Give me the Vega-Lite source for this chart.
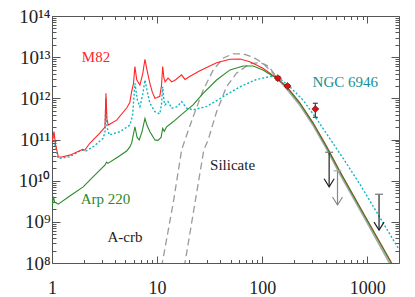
{
  "$schema": "https://vega.github.io/schema/vega-lite/v6.json",
  "width": 347,
  "height": 247,
  "autosize": {"type": "none"},
  "padding": {"left": 52, "top": 16, "right": 16, "bottom": 34},
  "background": "white",
  "config": {
    "view": {"stroke": null},
    "axis": {"grid": false, "domainColor": "#555", "tickColor": "#555", "domainWidth": 1, "tickWidth": 1, "title": null, "labelFlush": false, "labelOverlap": false, "labelBound": false}
  },
  "datasets": {
    "curves": [
      {"s": "dashA", "x": 11.0, "y": 8.0e7},
      {"s": "dashA", "x": 11.2, "y": 1.0e8},
      {"s": "dashA", "x": 14.3, "y": 3.09e9},
      {"s": "dashA", "x": 17.1, "y": 5.56e10},
      {"s": "dashA", "x": 18.4, "y": 9.77e10},
      {"s": "dashA", "x": 22, "y": 3.55e11},
      {"s": "dashA", "x": 27.4, "y": 1.58e12},
      {"s": "dashA", "x": 34.2, "y": 4.9e12},
      {"s": "dashA", "x": 42.6, "y": 9.55e12},
      {"s": "dashA", "x": 52.8, "y": 1.2e13},
      {"s": "dashA", "x": 65.9, "y": 1.2e13},
      {"s": "dashA", "x": 82, "y": 1.0e13},
      {"s": "dashA", "x": 101.5, "y": 7.08e12},
      {"s": "dashA", "x": 126, "y": 4.17e12},
      {"s": "dashA", "x": 141, "y": 2.95e12},
      {"s": "dashB", "x": 18.0, "y": 8.0e7},
      {"s": "dashB", "x": 18.4, "y": 1.0e8},
      {"s": "dashB", "x": 27.8, "y": 5.56e10},
      {"s": "dashB", "x": 30.6, "y": 9.77e10},
      {"s": "dashB", "x": 36.8, "y": 4.73e11},
      {"s": "dashB", "x": 45.7, "y": 1.91e12},
      {"s": "dashB", "x": 56.8, "y": 4.07e12},
      {"s": "dashB", "x": 76.2, "y": 6.92e12},
      {"s": "dashB", "x": 95, "y": 7.41e12},
      {"s": "dashB", "x": 115, "y": 6.03e12},
      {"s": "dashB", "x": 141, "y": 2.95e12},
      {"s": "tail", "x": 141, "y": 2.95e12},
      {"s": "tail", "x": 170, "y": 1.72e12},
      {"s": "tail", "x": 228, "y": 6.8e11},
      {"s": "tail", "x": 304.7, "y": 2.2e11},
      {"s": "tail", "x": 408.6, "y": 5.9e10},
      {"s": "tail", "x": 547.6, "y": 1.45e10},
      {"s": "tail", "x": 944, "y": 1.22e9},
      {"s": "tail", "x": 1700, "y": 8.0e7},
      {"s": "NGC 6946", "x": 1.0, "y": 9.77e10},
      {"s": "NGC 6946", "x": 1.03, "y": 1.2e11},
      {"s": "NGC 6946", "x": 1.07, "y": 7.08e10},
      {"s": "NGC 6946", "x": 1.148, "y": 3.47e10},
      {"s": "NGC 6946", "x": 1.48, "y": 3.8e10},
      {"s": "NGC 6946", "x": 1.92, "y": 5.56e10},
      {"s": "NGC 6946", "x": 2.1, "y": 5.25e10},
      {"s": "NGC 6946", "x": 2.47, "y": 6.68e10},
      {"s": "NGC 6946", "x": 3.07, "y": 1.07e11},
      {"s": "NGC 6946", "x": 3.2, "y": 1.58e11},
      {"s": "NGC 6946", "x": 3.26, "y": 1.0e12},
      {"s": "NGC 6946", "x": 3.33, "y": 2.0e11},
      {"s": "NGC 6946", "x": 3.51, "y": 1.29e11},
      {"s": "NGC 6946", "x": 4.43, "y": 1.55e11},
      {"s": "NGC 6946", "x": 5.52, "y": 2.24e11},
      {"s": "NGC 6946", "x": 5.85, "y": 3.98e11},
      {"s": "NGC 6946", "x": 6.15, "y": 2.32e12},
      {"s": "NGC 6946", "x": 6.5, "y": 8.91e11},
      {"s": "NGC 6946", "x": 6.86, "y": 6.31e11},
      {"s": "NGC 6946", "x": 7.3, "y": 1.26e12},
      {"s": "NGC 6946", "x": 7.66, "y": 2.79e12},
      {"s": "NGC 6946", "x": 8.0, "y": 1.58e12},
      {"s": "NGC 6946", "x": 8.54, "y": 7.59e11},
      {"s": "NGC 6946", "x": 9.53, "y": 4.73e11},
      {"s": "NGC 6946", "x": 10.6, "y": 4.17e11},
      {"s": "NGC 6946", "x": 11.0, "y": 7.08e11},
      {"s": "NGC 6946", "x": 11.3, "y": 1.91e12},
      {"s": "NGC 6946", "x": 11.6, "y": 8.91e11},
      {"s": "NGC 6946", "x": 11.9, "y": 6.92e11},
      {"s": "NGC 6946", "x": 12.7, "y": 8.32e11},
      {"s": "NGC 6946", "x": 13.8, "y": 5.75e11},
      {"s": "NGC 6946", "x": 15.5, "y": 6.31e11},
      {"s": "NGC 6946", "x": 17.1, "y": 8.32e11},
      {"s": "NGC 6946", "x": 19.1, "y": 5.75e11},
      {"s": "NGC 6946", "x": 22, "y": 5.25e11},
      {"s": "NGC 6946", "x": 29.5, "y": 6.31e11},
      {"s": "NGC 6946", "x": 42.6, "y": 1.1e12},
      {"s": "NGC 6946", "x": 61.5, "y": 1.91e12},
      {"s": "NGC 6946", "x": 88.3, "y": 2.88e12},
      {"s": "NGC 6946", "x": 126, "y": 3.47e12},
      {"s": "NGC 6946", "x": 141, "y": 3.31e12},
      {"s": "NGC 6946", "x": 183, "y": 1.91e12},
      {"s": "NGC 6946", "x": 244, "y": 9.12e11},
      {"s": "NGC 6946", "x": 327, "y": 3.24e11},
      {"s": "NGC 6946", "x": 438, "y": 1.07e11},
      {"s": "NGC 6946", "x": 589, "y": 3.47e10},
      {"s": "NGC 6946", "x": 846, "y": 8.32e9},
      {"s": "NGC 6946", "x": 2000, "y": 2.14e8},
      {"s": "M82", "x": 1.0, "y": 8.91e10},
      {"s": "M82", "x": 1.045, "y": 1.55e11},
      {"s": "M82", "x": 1.08, "y": 7.59e10},
      {"s": "M82", "x": 1.148, "y": 3.8e10},
      {"s": "M82", "x": 1.236, "y": 3.76e10},
      {"s": "M82", "x": 1.48, "y": 4.17e10},
      {"s": "M82", "x": 1.85, "y": 5.37e10},
      {"s": "M82", "x": 1.95, "y": 5.75e10},
      {"s": "M82", "x": 2.05, "y": 5.5e10},
      {"s": "M82", "x": 2.3, "y": 8.22e10},
      {"s": "M82", "x": 2.86, "y": 1.45e11},
      {"s": "M82", "x": 3.19, "y": 2.0e11},
      {"s": "M82", "x": 3.26, "y": 1.32e12},
      {"s": "M82", "x": 3.33, "y": 3.16e11},
      {"s": "M82", "x": 3.43, "y": 2.24e11},
      {"s": "M82", "x": 4.12, "y": 2.95e11},
      {"s": "M82", "x": 5.13, "y": 5.82e11},
      {"s": "M82", "x": 5.5, "y": 7.94e11},
      {"s": "M82", "x": 5.72, "y": 1.45e12},
      {"s": "M82", "x": 5.95, "y": 2.24e12},
      {"s": "M82", "x": 6.15, "y": 5.89e12},
      {"s": "M82", "x": 6.4, "y": 2.82e12},
      {"s": "M82", "x": 6.86, "y": 2.09e12},
      {"s": "M82", "x": 7.3, "y": 3.98e12},
      {"s": "M82", "x": 7.66, "y": 8.91e12},
      {"s": "M82", "x": 8.0, "y": 5.01e12},
      {"s": "M82", "x": 8.54, "y": 2.32e12},
      {"s": "M82", "x": 9.0, "y": 1.41e12},
      {"s": "M82", "x": 9.53, "y": 1.0e12},
      {"s": "M82", "x": 10.0, "y": 1.05e12},
      {"s": "M82", "x": 10.6, "y": 1.12e12},
      {"s": "M82", "x": 11.0, "y": 2.0e12},
      {"s": "M82", "x": 11.3, "y": 5.89e12},
      {"s": "M82", "x": 11.6, "y": 3.16e12},
      {"s": "M82", "x": 11.9, "y": 2.51e12},
      {"s": "M82", "x": 12.7, "y": 3.09e12},
      {"s": "M82", "x": 13.8, "y": 2.51e12},
      {"s": "M82", "x": 15.0, "y": 2.82e12},
      {"s": "M82", "x": 17.1, "y": 3.72e12},
      {"s": "M82", "x": 18.4, "y": 2.88e12},
      {"s": "M82", "x": 20, "y": 3.31e12},
      {"s": "M82", "x": 25.5, "y": 4.68e12},
      {"s": "M82", "x": 36.8, "y": 7.33e12},
      {"s": "M82", "x": 49.3, "y": 8.91e12},
      {"s": "M82", "x": 61.5, "y": 9.02e12},
      {"s": "M82", "x": 76.2, "y": 7.76e12},
      {"s": "M82", "x": 101.5, "y": 5.37e12},
      {"s": "M82", "x": 136.5, "y": 3.12e12},
      {"s": "M82", "x": 170, "y": 1.97e12},
      {"s": "M82", "x": 228, "y": 7.8e11},
      {"s": "M82", "x": 304.7, "y": 2.54e11},
      {"s": "M82", "x": 408.6, "y": 6.9e10},
      {"s": "M82", "x": 547.6, "y": 1.7e10},
      {"s": "M82", "x": 944, "y": 1.43e9},
      {"s": "M82", "x": 1720, "y": 9.6e7},
      {"s": "Arp 220", "x": 1.0, "y": 2.19e9},
      {"s": "Arp 220", "x": 1.03, "y": 4.07e9},
      {"s": "Arp 220", "x": 1.06, "y": 3.02e9},
      {"s": "Arp 220", "x": 1.148, "y": 2.69e9},
      {"s": "Arp 220", "x": 1.5, "y": 4.37e9},
      {"s": "Arp 220", "x": 1.98, "y": 7.08e9},
      {"s": "Arp 220", "x": 2.47, "y": 1.26e10},
      {"s": "Arp 220", "x": 3.2, "y": 2.4e10},
      {"s": "Arp 220", "x": 3.3, "y": 2.82e10},
      {"s": "Arp 220", "x": 3.4, "y": 2.63e10},
      {"s": "Arp 220", "x": 4.2, "y": 3.72e10},
      {"s": "Arp 220", "x": 5.13, "y": 5.25e10},
      {"s": "Arp 220", "x": 5.5, "y": 6.61e10},
      {"s": "Arp 220", "x": 5.72, "y": 8.13e10},
      {"s": "Arp 220", "x": 6.15, "y": 2.04e11},
      {"s": "Arp 220", "x": 6.45, "y": 1.12e11},
      {"s": "Arp 220", "x": 6.76, "y": 9.77e10},
      {"s": "Arp 220", "x": 7.2, "y": 1.58e11},
      {"s": "Arp 220", "x": 7.66, "y": 3.24e11},
      {"s": "Arp 220", "x": 8.0, "y": 2.24e11},
      {"s": "Arp 220", "x": 8.54, "y": 1.55e11},
      {"s": "Arp 220", "x": 9.53, "y": 9.77e10},
      {"s": "Arp 220", "x": 10.2, "y": 9.55e10},
      {"s": "Arp 220", "x": 10.9, "y": 1.12e11},
      {"s": "Arp 220", "x": 11.3, "y": 1.86e11},
      {"s": "Arp 220", "x": 11.7, "y": 1.58e11},
      {"s": "Arp 220", "x": 12.3, "y": 2.04e11},
      {"s": "Arp 220", "x": 14.2, "y": 2.69e11},
      {"s": "Arp 220", "x": 17.7, "y": 4.37e11},
      {"s": "Arp 220", "x": 22.0, "y": 6.92e11},
      {"s": "Arp 220", "x": 27.4, "y": 1.32e12},
      {"s": "Arp 220", "x": 36.8, "y": 2.79e12},
      {"s": "Arp 220", "x": 49.3, "y": 4.9e12},
      {"s": "Arp 220", "x": 65.9, "y": 6.1e12},
      {"s": "Arp 220", "x": 82, "y": 6.1e12},
      {"s": "Arp 220", "x": 101.5, "y": 4.9e12},
      {"s": "Arp 220", "x": 136.5, "y": 3.09e12},
      {"s": "Arp 220", "x": 170, "y": 1.91e12},
      {"s": "Arp 220", "x": 228, "y": 7.57e11},
      {"s": "Arp 220", "x": 304.7, "y": 2.47e11},
      {"s": "Arp 220", "x": 408.6, "y": 6.68e10},
      {"s": "Arp 220", "x": 547.6, "y": 1.65e10},
      {"s": "Arp 220", "x": 944, "y": 1.39e9},
      {"s": "Arp 220", "x": 1700, "y": 9.6e7}
    ],
    "limits": [
      {"id": "U1", "x": 433, "top": 4.9e10, "tip": 7.1e9},
      {"id": "U2", "x": 520, "top": 1.74e10, "tip": 2.57e9},
      {"id": "U3", "x": 1292, "top": 4.68e9, "tip": 6.3e8}
    ],
    "points": [
      {"id": "P1", "x": 141, "y": 3.09e12, "lo": 2.8e12, "hi": 3.4e12},
      {"id": "P2", "x": 174, "y": 1.99e12, "lo": 1.85e12, "hi": 2.15e12},
      {"id": "P3", "x": 320, "y": 5.5e11, "lo": 3.47e11, "hi": 7.6e11}
    ],
    "labels": [
      {"text": "M82", "s": "M82", "x": 2.62, "y": 1.0e13},
      {"text": "NGC 6946", "s": "NGC 6946", "x": 617, "y": 2.5e12},
      {"text": "Arp 220", "s": "Arp 220", "x": 3.23, "y": 3.5e9},
      {"text": "Silicate", "s": "model", "x": 52.2, "y": 2.46e10},
      {"text": "A-crb", "s": "model", "x": 4.94, "y": 4.4e8}
    ]
  },
  "layer": [
    {
      "data": {"name": "curves"},
      "mark": {"type": "point", "opacity": 0},
      "encoding": {
        "x": {"field": "x", "type": "quantitative", "scale": {"type": "log", "domain": [1, 2000], "nice": false},
          "axis": {"orient": "bottom", "values": [1, 10, 100, 1000], "tickSize": -7, "labelPadding": 23, "labelFont": "Liberation Serif", "labelFontSize": 18, "labelColor": "#222", "labelExpr": "datum.value + ''"}},
        "y": {"field": "y", "type": "quantitative", "scale": {"type": "log", "domain": [1e8, 1e14], "nice": false},
          "axis": {"orient": "left", "values": [1e8, 1e9, 1e10, 1e11, 1e12, 1e13, 1e14], "tickSize": -8, "labelPadding": 10, "labelFont": "Liberation Serif", "labelFontSize": 19, "labelColor": "#222",
            "labelExpr": "'10' + (datum.value >= 1e14 ? '¹⁴' : datum.value >= 1e13 ? '¹³' : datum.value >= 1e12 ? '¹²' : datum.value >= 1e11 ? '¹¹' : datum.value >= 1e10 ? '¹⁰' : datum.value >= 1e9 ? '⁹' : '⁸')"}}
      }
    },
    {
      "data": {"name": "curves"},
      "mark": {"type": "point", "opacity": 0},
      "encoding": {
        "x": {"field": "x", "type": "quantitative", "scale": {"type": "log", "domain": [1, 2000], "nice": false},
          "axis": {"orient": "bottom", "domain": false, "labels": false, "tickSize": -3.5, "values": [2,3,4,5,6,7,8,9,20,30,40,50,60,70,80,90,200,300,400,500,600,700,800,900]}},
        "y": {"field": "y", "type": "quantitative", "scale": {"type": "log", "domain": [1e8, 1e14], "nice": false},
          "axis": {"orient": "left", "domain": false, "labels": false, "tickSize": -4, "values": [2e8,3e8,4e8,5e8,6e8,7e8,8e8,9e8,2e9,3e9,4e9,5e9,6e9,7e9,8e9,9e9,2e10,3e10,4e10,5e10,6e10,7e10,8e10,9e10,2e11,3e11,4e11,5e11,6e11,7e11,8e11,9e11,2e12,3e12,4e12,5e12,6e12,7e12,8e12,9e12,2e13,3e13,4e13,5e13,6e13,7e13,8e13,9e13]}}
      }
    },
    {
      "data": {"name": "curves"},
      "mark": {"type": "point", "opacity": 0},
      "encoding": {
        "x": {"field": "x", "type": "quantitative", "scale": {"type": "log", "domain": [1, 2000], "nice": false},
          "axis": {"orient": "top", "labels": false, "tickSize": -7, "values": [1, 10, 100, 1000]}},
        "y": {"field": "y", "type": "quantitative", "scale": {"type": "log", "domain": [1e8, 1e14], "nice": false},
          "axis": {"orient": "right", "labels": false, "tickSize": -8, "values": [1e8, 1e9, 1e10, 1e11, 1e12, 1e13, 1e14]}}
      }
    },
    {
      "data": {"name": "curves"},
      "mark": {"type": "point", "opacity": 0},
      "encoding": {
        "x": {"field": "x", "type": "quantitative", "scale": {"type": "log", "domain": [1, 2000], "nice": false},
          "axis": {"orient": "top", "domain": false, "labels": false, "tickSize": -3.5, "values": [2,3,4,5,6,7,8,9,20,30,40,50,60,70,80,90,200,300,400,500,600,700,800,900]}},
        "y": {"field": "y", "type": "quantitative", "scale": {"type": "log", "domain": [1e8, 1e14], "nice": false},
          "axis": {"orient": "right", "domain": false, "labels": false, "tickSize": -4, "values": [2e8,3e8,4e8,5e8,6e8,7e8,8e8,9e8,2e9,3e9,4e9,5e9,6e9,7e9,8e9,9e9,2e10,3e10,4e10,5e10,6e10,7e10,8e10,9e10,2e11,3e11,4e11,5e11,6e11,7e11,8e11,9e11,2e12,3e12,4e12,5e12,6e12,7e12,8e12,9e12,2e13,3e13,4e13,5e13,6e13,7e13,8e13,9e13]}}
      }
    },
    {
      "data": {"name": "curves"},
      "transform": [{"filter": {"field": "s", "oneOf": ["dashA", "dashB"]}}],
      "mark": {"type": "line", "color": "#9a9a9a", "strokeWidth": 1.3, "strokeDash": [7, 4], "clip": true},
      "encoding": {
        "x": {"field": "x", "type": "quantitative", "scale": {"type": "log", "domain": [1, 2000], "nice": false}, "axis": null},
        "y": {"field": "y", "type": "quantitative", "scale": {"type": "log", "domain": [1e8, 1e14], "nice": false}, "axis": null},
        "detail": {"field": "s"}
      }
    },
    {
      "data": {"name": "curves"},
      "transform": [{"filter": {"field": "s", "equal": "tail"}}],
      "mark": {"type": "line", "color": "#a8a8a8", "strokeWidth": 1.6, "clip": true},
      "encoding": {
        "x": {"field": "x", "type": "quantitative", "scale": {"type": "log", "domain": [1, 2000], "nice": false}, "axis": null},
        "y": {"field": "y", "type": "quantitative", "scale": {"type": "log", "domain": [1e8, 1e14], "nice": false}, "axis": null}
      }
    },
    {
      "data": {"name": "curves"},
      "transform": [{"filter": {"field": "s", "equal": "NGC 6946"}}],
      "mark": {"type": "line", "color": "#12b4bc", "strokeWidth": 1.4, "strokeDash": [2, 2], "clip": true},
      "encoding": {
        "x": {"field": "x", "type": "quantitative", "scale": {"type": "log", "domain": [1, 2000], "nice": false}, "axis": null},
        "y": {"field": "y", "type": "quantitative", "scale": {"type": "log", "domain": [1e8, 1e14], "nice": false}, "axis": null}
      }
    },
    {
      "data": {"name": "curves"},
      "transform": [{"filter": {"field": "s", "equal": "M82"}}],
      "mark": {"type": "line", "color": "#ff2626", "strokeWidth": 1.1, "clip": true},
      "encoding": {
        "x": {"field": "x", "type": "quantitative", "scale": {"type": "log", "domain": [1, 2000], "nice": false}, "axis": null},
        "y": {"field": "y", "type": "quantitative", "scale": {"type": "log", "domain": [1e8, 1e14], "nice": false}, "axis": null}
      }
    },
    {
      "data": {"name": "curves"},
      "transform": [{"filter": {"field": "s", "equal": "Arp 220"}}],
      "mark": {"type": "line", "color": "#2a8a2a", "strokeWidth": 1.1, "clip": true},
      "encoding": {
        "x": {"field": "x", "type": "quantitative", "scale": {"type": "log", "domain": [1, 2000], "nice": false}, "axis": null},
        "y": {"field": "y", "type": "quantitative", "scale": {"type": "log", "domain": [1e8, 1e14], "nice": false}, "axis": null}
      }
    },
    {
      "data": {"name": "limits"},
      "transform": [{"filter": {"field": "id", "oneOf": ["U1", "U3"]}}],
      "mark": {"type": "rule", "color": "#222", "strokeWidth": 1.2},
      "encoding": {
        "x": {"field": "x", "type": "quantitative", "scale": {"type": "log", "domain": [1, 2000], "nice": false}, "axis": null},
        "y": {"field": "top", "type": "quantitative", "scale": {"type": "log", "domain": [1e8, 1e14], "nice": false}, "axis": null},
        "y2": {"field": "tip"}
      }
    },
    {
      "data": {"name": "limits"},
      "transform": [{"filter": {"field": "id", "oneOf": ["U1", "U3"]}}],
      "mark": {"type": "point", "color": "#222", "filled": false, "strokeWidth": 1.2, "size": 100, "shape": "M-1,-1.6L0,0L1,-1.6", "opacity": 1},
      "encoding": {
        "x": {"field": "x", "type": "quantitative", "scale": {"type": "log", "domain": [1, 2000], "nice": false}, "axis": null},
        "y": {"field": "tip", "type": "quantitative", "scale": {"type": "log", "domain": [1e8, 1e14], "nice": false}, "axis": null}
      }
    },
    {
      "data": {"name": "limits"},
      "transform": [{"filter": {"field": "id", "oneOf": ["U1", "U3"]}}],
      "mark": {"type": "point", "color": "#777", "filled": false, "strokeWidth": 1.2, "size": 64, "shape": "M-1,0L1,0", "opacity": 1},
      "encoding": {
        "x": {"field": "x", "type": "quantitative", "scale": {"type": "log", "domain": [1, 2000], "nice": false}, "axis": null},
        "y": {"field": "top", "type": "quantitative", "scale": {"type": "log", "domain": [1e8, 1e14], "nice": false}, "axis": null}
      }
    },
    {
      "data": {"name": "limits"},
      "transform": [{"filter": {"field": "id", "equal": "U2"}}],
      "mark": {"type": "rule", "color": "#888", "strokeWidth": 1.2},
      "encoding": {
        "x": {"field": "x", "type": "quantitative", "scale": {"type": "log", "domain": [1, 2000], "nice": false}, "axis": null},
        "y": {"field": "top", "type": "quantitative", "scale": {"type": "log", "domain": [1e8, 1e14], "nice": false}, "axis": null},
        "y2": {"field": "tip"}
      }
    },
    {
      "data": {"name": "limits"},
      "transform": [{"filter": {"field": "id", "equal": "U2"}}],
      "mark": {"type": "point", "color": "#888", "filled": false, "strokeWidth": 1.2, "size": 100, "shape": "M-1,-1.6L0,0L1,-1.6", "opacity": 1},
      "encoding": {
        "x": {"field": "x", "type": "quantitative", "scale": {"type": "log", "domain": [1, 2000], "nice": false}, "axis": null},
        "y": {"field": "tip", "type": "quantitative", "scale": {"type": "log", "domain": [1e8, 1e14], "nice": false}, "axis": null}
      }
    },
    {
      "data": {"name": "limits"},
      "transform": [{"filter": {"field": "id", "equal": "U2"}}],
      "mark": {"type": "point", "color": "#aaa", "filled": false, "strokeWidth": 1.2, "size": 64, "shape": "M-1,0L1,0", "opacity": 1},
      "encoding": {
        "x": {"field": "x", "type": "quantitative", "scale": {"type": "log", "domain": [1, 2000], "nice": false}, "axis": null},
        "y": {"field": "top", "type": "quantitative", "scale": {"type": "log", "domain": [1e8, 1e14], "nice": false}, "axis": null}
      }
    },
    {
      "data": {"name": "points"},
      "mark": {"type": "rule", "color": "#333", "strokeWidth": 1.1},
      "encoding": {
        "x": {"field": "x", "type": "quantitative", "scale": {"type": "log", "domain": [1, 2000], "nice": false}, "axis": null},
        "y": {"field": "lo", "type": "quantitative", "scale": {"type": "log", "domain": [1e8, 1e14], "nice": false}, "axis": null},
        "y2": {"field": "hi"}
      }
    },
    {
      "data": {"name": "points"},
      "mark": {"type": "point", "color": "#333", "filled": false, "strokeWidth": 1.1, "size": 25, "shape": "M-1,0L1,0", "opacity": 1},
      "encoding": {
        "x": {"field": "x", "type": "quantitative", "scale": {"type": "log", "domain": [1, 2000], "nice": false}, "axis": null},
        "y": {"field": "lo", "type": "quantitative", "scale": {"type": "log", "domain": [1e8, 1e14], "nice": false}, "axis": null}
      }
    },
    {
      "data": {"name": "points"},
      "mark": {"type": "point", "color": "#333", "filled": false, "strokeWidth": 1.1, "size": 25, "shape": "M-1,0L1,0", "opacity": 1},
      "encoding": {
        "x": {"field": "x", "type": "quantitative", "scale": {"type": "log", "domain": [1, 2000], "nice": false}, "axis": null},
        "y": {"field": "hi", "type": "quantitative", "scale": {"type": "log", "domain": [1e8, 1e14], "nice": false}, "axis": null}
      }
    },
    {
      "data": {"name": "points"},
      "mark": {"type": "point", "shape": "diamond", "filled": true, "color": "#e01010", "stroke": "#551010", "strokeWidth": 0.6, "size": 50, "opacity": 1},
      "encoding": {
        "x": {"field": "x", "type": "quantitative", "scale": {"type": "log", "domain": [1, 2000], "nice": false}, "axis": null},
        "y": {"field": "y", "type": "quantitative", "scale": {"type": "log", "domain": [1e8, 1e14], "nice": false}, "axis": null}
      }
    },
    {
      "data": {"name": "labels"},
      "mark": {"type": "text", "font": "Liberation Serif", "fontSize": 15, "align": "center", "baseline": "middle"},
      "encoding": {
        "x": {"field": "x", "type": "quantitative", "scale": {"type": "log", "domain": [1, 2000], "nice": false}, "axis": null},
        "y": {"field": "y", "type": "quantitative", "scale": {"type": "log", "domain": [1e8, 1e14], "nice": false}, "axis": null},
        "text": {"field": "text"},
        "color": {"field": "s", "type": "nominal", "legend": null, "scale": {"domain": ["M82", "NGC 6946", "Arp 220", "model"], "range": ["#ff2626", "#188f94", "#2a8a2a", "#222222"]}}
      }
    }
  ],
  "resolve": {"axis": {"x": "independent", "y": "independent"}}
}
